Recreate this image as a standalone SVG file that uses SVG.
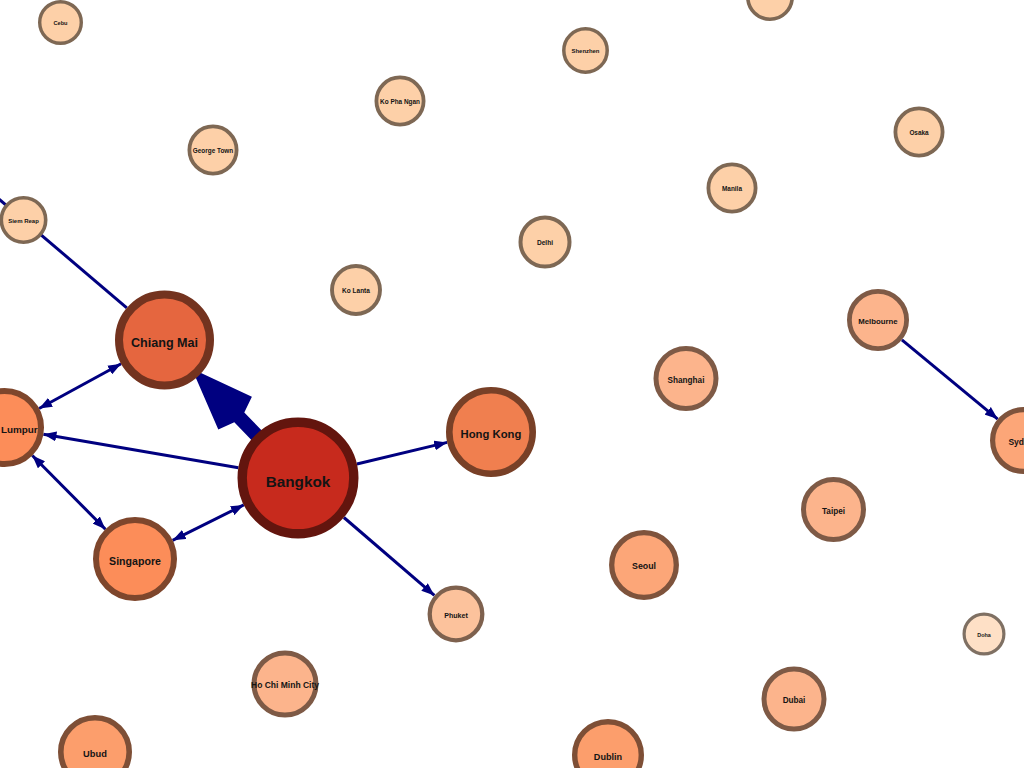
<svg xmlns="http://www.w3.org/2000/svg" width="1024" height="768" viewBox="0 0 1024 768">
<defs>
<marker id="ah" markerUnits="userSpaceOnUse" markerWidth="13" markerHeight="10" viewBox="0 0 13 10" refX="13" refY="5" orient="auto-start-reverse">
<path d="M0,0 L13,5 L0,10 z" fill="#000080"/>
</marker>
</defs>
<style>
.e{stroke:#000080;stroke-width:3;fill:none}
text{font-family:"Liberation Sans",Arial,sans-serif;font-weight:bold;fill:#141414;text-anchor:middle}
</style>
<rect width="1024" height="768" fill="#ffffff"/>
<g id="edges">
<line class="e" x1="-10" y1="191.4" x2="126.8" y2="307.9"/>
<line class="e" x1="121.1" y1="363.8" x2="39.1" y2="408.5" marker-start="url(#ah)" marker-end="url(#ah)"/>
<line class="e" x1="238.4" y1="467.7" x2="43.4" y2="434.2" marker-end="url(#ah)"/>
<line class="e" x1="32.3" y1="455.5" x2="105.4" y2="529.2" marker-start="url(#ah)" marker-end="url(#ah)"/>
<line class="e" x1="172.6" y1="540.3" x2="243.8" y2="504.9" marker-start="url(#ah)" marker-end="url(#ah)"/>
<line class="e" x1="356.9" y1="464.0" x2="447.2" y2="442.4" marker-end="url(#ah)"/>
<line class="e" x1="343.9" y1="517.5" x2="434.4" y2="595.4" marker-end="url(#ah)"/>
<line class="e" x1="901.9" y1="339.8" x2="997.7" y2="419.1" marker-end="url(#ah)"/>
<polygon points="191.9,368.7 251.9,396.7 244.3,412.5 266.6,435.5 256.6,445.3 234.3,422.3 218.3,429.5" fill="#000080"/>
</g>
<g id="Cebu"><circle cx="60.5" cy="22.5" r="20.8" fill="#fdd0a8" stroke="#7e6854" stroke-width="3.4"/><text x="60.5" y="22.5" dy="0.5em" font-size="5.6">Cebu</text></g>
<g id="GeorgeTown"><circle cx="213" cy="150" r="23.6" fill="#fdd0a8" stroke="#7e6854" stroke-width="3.8"/><text x="213" y="150" dy="0.5em" font-size="6.4">George Town</text></g>
<g id="KoPhaNgan"><circle cx="400" cy="101" r="23.6" fill="#fdd0a8" stroke="#7e6854" stroke-width="3.8"/><text x="400" y="101" dy="0.5em" font-size="6.4">Ko Pha Ngan</text></g>
<g id="Shenzhen"><circle cx="585.5" cy="50.5" r="21.7" fill="#fdd0a8" stroke="#7e6854" stroke-width="3.5"/><text x="585.5" y="50.5" dy="0.5em" font-size="5.9">Shenzhen</text></g>
<g id="TopNode"><circle cx="770" cy="-3" r="22.2" fill="#fdd0a8" stroke="#7e6854" stroke-width="3.6"/></g>
<g id="Osaka"><circle cx="919" cy="132" r="23.6" fill="#fdd0a8" stroke="#7e6854" stroke-width="3.8"/><text x="919" y="132" dy="0.5em" font-size="6.4">Osaka</text></g>
<g id="Manila"><circle cx="732" cy="188" r="23.6" fill="#fdd0a8" stroke="#7e6854" stroke-width="3.8"/><text x="732" y="188" dy="0.5em" font-size="6.4">Manila</text></g>
<g id="Delhi"><circle cx="545" cy="242" r="24.5" fill="#fdd0a8" stroke="#7e6854" stroke-width="4"/><text x="545" y="242" dy="0.5em" font-size="6.6">Delhi</text></g>
<g id="SiemReap"><circle cx="23.5" cy="220" r="22.2" fill="#fdd0a8" stroke="#7e6854" stroke-width="3.6"/><text x="23.5" y="220" dy="0.5em" font-size="6">Siem Reap</text></g>
<g id="KoLanta"><circle cx="356" cy="290" r="24" fill="#fdd0a8" stroke="#7e6854" stroke-width="3.9"/><text x="356" y="290" dy="0.5em" font-size="6.5">Ko Lanta</text></g>
<g id="ChiangMai"><circle cx="164.5" cy="340" r="45.5" fill="#e5663f" stroke="#73331f" stroke-width="8"/><text x="164.5" y="340" dy="0.58em" font-size="12.6">Chiang Mai</text></g>
<g id="KualaLumpur"><circle cx="4.5" cy="427.5" r="36.5" fill="#fc8d59" stroke="#7e462c" stroke-width="6"/><text x="4.5" y="427.5" dy="0.55em" font-size="9.9">Kuala Lumpur</text></g>
<g id="Bangkok"><circle cx="298" cy="478" r="55.8" fill="#c72a1d" stroke="#63150e" stroke-width="9.4"/><text x="298" y="478" dy="0.58em" font-size="15.3">Bangkok</text></g>
<g id="HongKong"><circle cx="491" cy="432" r="41.7" fill="#f07f4f" stroke="#784027" stroke-width="6.6"/><text x="491" y="432" dy="0.55em" font-size="11.3">Hong Kong</text></g>
<g id="Singapore"><circle cx="135" cy="559" r="39" fill="#fc8d59" stroke="#7e462c" stroke-width="6"/><text x="135" y="559" dy="0.58em" font-size="10.6">Singapore</text></g>
<g id="Phuket"><circle cx="456" cy="614" r="26.3" fill="#fcc29c" stroke="#7e614e" stroke-width="4.3"/><text x="456" y="614" dy="0.5em" font-size="7.1">Phuket</text></g>
<g id="Melbourne"><circle cx="878" cy="320" r="28.6" fill="#fcb48c" stroke="#7e5a46" stroke-width="4.8"/><text x="878" y="320" dy="0.5em" font-size="7.8">Melbourne</text></g>
<g id="Sydney"><circle cx="1023.5" cy="440.5" r="30.9" fill="#fca678" stroke="#7e533c" stroke-width="5.2"/><text x="1023.5" y="440.5" dy="0.5em" font-size="8.5">Sydney</text></g>
<g id="Shanghai"><circle cx="686" cy="378.5" r="30" fill="#fcb48c" stroke="#7e5a46" stroke-width="5"/><text x="686" y="378.5" dy="0.5em" font-size="8.2">Shanghai</text></g>
<g id="Taipei"><circle cx="833.5" cy="509.5" r="30" fill="#fcb48c" stroke="#7e5a46" stroke-width="5"/><text x="833.5" y="509.5" dy="0.5em" font-size="8.2">Taipei</text></g>
<g id="Seoul"><circle cx="644" cy="565" r="32.3" fill="#fca678" stroke="#7e533c" stroke-width="5.3"/><text x="644" y="565" dy="0.5em" font-size="8.8">Seoul</text></g>
<g id="HoChiMinhCity"><circle cx="285" cy="684" r="31" fill="#fcb48c" stroke="#7e5a46" stroke-width="5"/><text x="285" y="684" dy="0.5em" font-size="8.5">Ho Chi Minh City</text></g>
<g id="Ubud"><circle cx="95" cy="752" r="34.2" fill="#fc9e6c" stroke="#7e4f36" stroke-width="5.6"/><text x="95" y="752" dy="0.5em" font-size="9.3">Ubud</text></g>
<g id="Dublin"><circle cx="608" cy="755" r="33.3" fill="#fc9e6c" stroke="#7e4f36" stroke-width="5.4"/><text x="608" y="755" dy="0.5em" font-size="9.1">Dublin</text></g>
<g id="Dubai"><circle cx="794" cy="699" r="30" fill="#fcb48c" stroke="#7e5a46" stroke-width="5"/><text x="794" y="699" dy="0.5em" font-size="8.2">Dubai</text></g>
<g id="Doha"><circle cx="984" cy="634" r="19.9" fill="#fee0c6" stroke="#7f7063" stroke-width="3.2"/><text x="984" y="634" dy="0.5em" font-size="5.4">Doha</text></g>
</svg>
